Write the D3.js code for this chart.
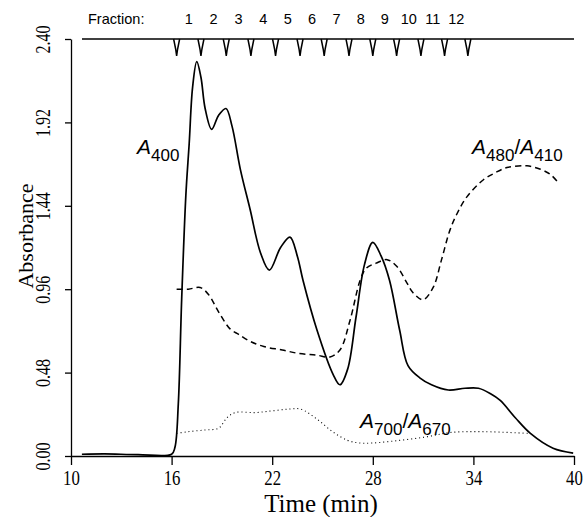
<!DOCTYPE html>
<html>
<head>
<meta charset="utf-8">
<script src="https://cdn.jsdelivr.net/npm/d3@7"></script>
<style>
  body { margin: 0; background: #fff; }
  svg text { fill: #000; }
</style>
</head>
<body>
<div id="chart"></div>
<script>
// tick values and fraction bar
const xTicks = [10, 16, 22, 28, 34, 40];
const yTicks = [0, 0.48, 0.96, 1.44, 1.92, 2.40];
const fractionEdges = [16.3, 17.75, 19.26, 20.73, 22.2, 23.66, 25.1, 26.58, 28.0, 29.42, 30.87, 32.28, 33.67];
const fractionLabels = ['1', '2', '3', '4', '5', '6', '7', '8', '9', '10', '11', '12'];

// [time (min), absorbance]
const a400 = [
  [10.65, 0.01], [12, 0.012], [14, 0.008], [16, 0.01], [16.2, 0.05], [16.4, 0.3], [16.6, 0.9],
  [16.85, 1.5], [17.05, 1.8], [17.25, 2.12], [17.5, 2.27], [17.75, 2.18], [18.0, 2.0], [18.39, 1.88],
  [18.8, 1.96], [19.24, 2.0], [19.6, 1.9], [20.1, 1.65], [20.68, 1.42], [21.3, 1.17], [21.83, 1.07],
  [22.5, 1.2], [23.06, 1.26], [23.5, 1.15], [23.84, 1.01], [24.67, 0.725], [25.63, 0.47], [26.04, 0.41],
  [26.5, 0.5], [27.0, 0.8], [27.5, 1.1], [28.0, 1.23], [28.5, 1.15], [29.0, 1.01], [29.6, 0.725],
  [30.1, 0.52], [30.8, 0.45], [31.5, 0.41], [32.5, 0.38], [33.5, 0.39], [34.3, 0.39], [35.0, 0.36],
  [35.6, 0.32], [36.5, 0.22], [37.4, 0.13], [38.75, 0.045], [39.95, 0.017]
];
const a480a410 = [
  [16.3, 0.96], [17.0, 0.96], [17.7, 0.97], [18.2, 0.93], [18.8, 0.83], [19.5, 0.73], [20.0, 0.7],
  [20.68, 0.66], [21.5, 0.63], [22.6, 0.61], [23.6, 0.59], [24.67, 0.58], [25.45, 0.57], [26.04, 0.61],
  [26.64, 0.78], [27.24, 1.01], [27.6, 1.08], [28.2, 1.11], [28.85, 1.13], [29.44, 1.09], [30.04, 0.995],
  [30.4, 0.94], [31.0, 0.9], [31.6, 0.97], [32.1, 1.13], [32.6, 1.3], [33.0, 1.39], [33.6, 1.49],
  [34.6, 1.59], [35.3, 1.63], [36.0, 1.66], [37.2, 1.67], [38.0, 1.65], [38.6, 1.62], [39.0, 1.58]
];
const a700a670 = [
  [16.3, 0.13], [17.0, 0.14], [18.0, 0.15], [18.8, 0.16], [19.3, 0.22], [19.8, 0.25], [21.0, 0.25],
  [22.0, 0.26], [23.0, 0.27], [23.7, 0.27], [24.7, 0.21], [25.6, 0.14], [26.5, 0.09], [27.2, 0.075],
  [28.0, 0.075], [29.6, 0.09], [31.2, 0.11], [32.6, 0.135], [34.6, 0.14], [37.3, 0.13]
];

const W = 586, H = 517, M = { t: 39, r: 12, b: 61, l: 71 };
const svg = d3.select('#chart').append('svg').attr('width', W).attr('height', H);

const x = d3.scaleLinear().domain([10, 40]).range([M.l, W - M.r]);
const y = d3.scaleLinear().domain([0, 2.4]).range([H - M.b, M.t]);
const serif = '"Liberation Serif", "DejaVu Serif", serif';
const sans = '"Liberation Sans", Arial, sans-serif';

// axes
const gx = svg.append('g').attr('transform', `translate(0,${y(0)})`)
  .call(d3.axisBottom(x).tickValues(xTicks).tickSize(9).tickSizeOuter(0).tickFormat(d3.format('d')));
gx.selectAll('text').attr('y', 14).attr('dy', '0.71em')
  .attr('font-family', serif).attr('font-size', 21).attr('transform', 'scale(0.8,1)');

const gy = svg.append('g').attr('transform', `translate(${x(10)},0)`)
  .call(d3.axisLeft(y).tickValues(yTicks).tickSize(6).tickSizeOuter(0).tickFormat(d3.format('.2f')));
gy.selectAll('text').attr('x', null).attr('dy', null).attr('text-anchor', 'middle')
  .attr('font-family', serif).attr('font-size', 20)
  .attr('transform', 'translate(-21,0) rotate(-90) scale(0.8,1)');

svg.selectAll('.domain, .tick line').attr('stroke', '#000').attr('stroke-width', 1.3);

svg.append('text').attr('x', 321).attr('y', 512).attr('text-anchor', 'middle')
  .attr('font-family', serif).attr('font-size', 25)
  .text('Time (min)');
svg.append('text').attr('transform', 'translate(33,236) rotate(-90)').attr('text-anchor', 'middle')
  .attr('font-family', serif).attr('font-size', 22).text('Absorbance');

// fraction bar
svg.append('line').attr('x1', 82).attr('x2', x(40)).attr('y1', y(2.4)).attr('y2', y(2.4))
  .attr('stroke', '#000').attr('stroke-width', 1.3);
svg.selectAll('.notch').data(fractionEdges).enter().append('path')
  .attr('class', 'notch')
  .attr('d', d => {
    const px = x(d), py = y(2.4);
    return `M${px - 3},${py} L${px - 1},${py + 10} L${px},${py + 17} L${px + 1},${py + 10} L${px + 3},${py}`;
  })
  .attr('fill', 'none').attr('stroke', '#000').attr('stroke-width', 1.5);
svg.append('text').attr('x', 88).attr('y', 24).attr('font-family', sans).attr('font-size', 14.5).text('Fraction:');
svg.selectAll('.flab').data(fractionLabels).enter().append('text')
  .attr('class', 'flab')
  .attr('x', (d, i) => x((fractionEdges[i] + fractionEdges[i + 1]) / 2))
  .attr('y', 24).attr('text-anchor', 'middle')
  .attr('font-family', sans).attr('font-size', 14.5).text(d => d);

// curves
const line = d3.line().x(d => x(d[0])).y(d => y(d[1])).curve(d3.curveCatmullRom.alpha(0.5));
svg.append('path').datum(a400).attr('d', line)
  .attr('fill', 'none').attr('stroke', '#000').attr('stroke-width', 1.7);
svg.append('path').datum(a480a410).attr('d', line)
  .attr('fill', 'none').attr('stroke', '#000').attr('stroke-width', 1.5).attr('stroke-dasharray', '6,4');
svg.append('path').datum(a700a670).attr('d', line)
  .attr('fill', 'none').attr('stroke', '#000').attr('stroke-width', 1.1).attr('stroke-dasharray', '1,3');

// series labels
function seriesLabel(px, py, parts) {
  const t = svg.append('text').attr('x', px).attr('y', py).attr('font-family', sans);
  parts.forEach(p => {
    if (p.sub) t.append('tspan').attr('font-size', 17).attr('dy', 7).text(p.sub);
    else t.append('tspan').attr('font-size', 21).attr('font-style', p.italic ? 'italic' : null)
      .attr('dy', p.reset ? -7 : 0).text(p.text);
  });
}
seriesLabel(137, 154, [{ text: 'A', italic: true }, { sub: '400' }]);
seriesLabel(472, 154, [{ text: 'A', italic: true }, { sub: '480' }, { text: '/', reset: true },
  { text: 'A', italic: true }, { sub: '410' }]);
seriesLabel(360, 428, [{ text: 'A', italic: true }, { sub: '700' }, { text: '/', reset: true },
  { text: 'A', italic: true }, { sub: '670' }]);
</script>
</body>
</html>
